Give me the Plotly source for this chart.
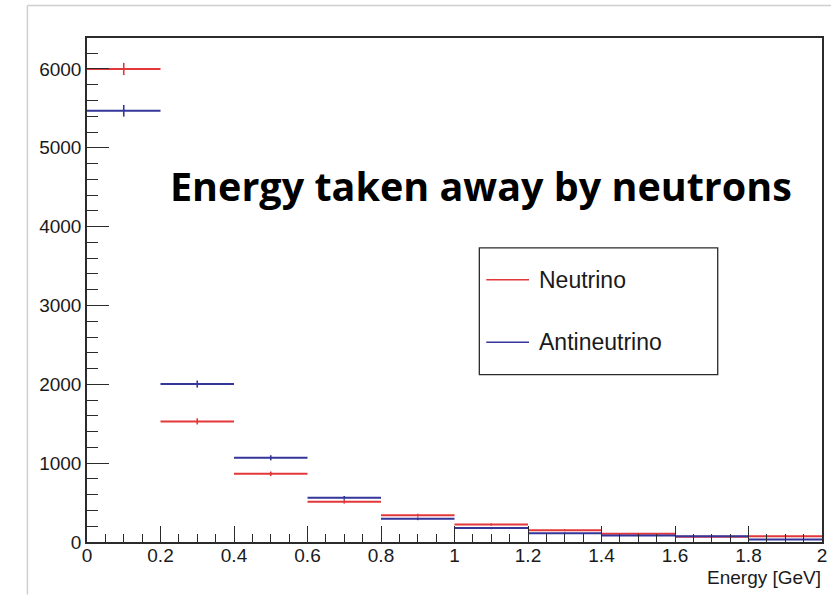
import numpy as np
import plotly.graph_objects as go

# Histogram bins (GeV) and bin contents
bin_edges = [0.0, 0.2, 0.4, 0.6, 0.8, 1.0, 1.2, 1.4, 1.6, 1.8, 2.0]
neutrino = [6000, 1530, 865, 510, 340, 222, 150, 105, 68, 73]
antineutrino = [5470, 2003, 1068, 560, 294, 176, 111, 83, 74, 33]

x_tick_vals = [0, 0.2, 0.4, 0.6, 0.8, 1.0, 1.2, 1.4, 1.6, 1.8, 2.0]
x_tick_text = ["0", "0.2", "0.4", "0.6", "0.8", "1", "1.2", "1.4", "1.6", "1.8", "2"]
y_tick_vals = [0, 1000, 2000, 3000, 4000, 5000, 6000]
y_tick_text = ["0", "1000", "2000", "3000", "4000", "5000", "6000"]

title_text = "Energy taken away by neutrons"
x_label = "Energy [GeV]"
legend_labels = ["Neutrino", "Antineutrino"]

RED = "#e3373a"
BLUE = "#34369a"
AXIS = "#2b2b2b"

W, H = 836, 595
L, R, T, B = 87, 9, 38, 52.5
PW, PH = W - L - R, H - T - B

centers = [(a + b) / 2 for a, b in zip(bin_edges[:-1], bin_edges[1:])]
half_w = [(b - a) / 2 for a, b in zip(bin_edges[:-1], bin_edges[1:])]


def px(xp):
    return (xp - L) / PW


def py(yp):
    return (H - B - yp) / PH


fig = go.Figure()
for vals, col, name in [(neutrino, RED, legend_labels[0]), (antineutrino, BLUE, legend_labels[1])]:
    fig.add_trace(go.Scatter(
        x=centers, y=vals, mode="markers", name=name,
        marker=dict(size=1, color=col, opacity=0),
        error_x=dict(type="data", array=half_w, visible=True, color=col, thickness=2, width=0),
        error_y=dict(type="data", array=list(np.sqrt(vals)), visible=True, color=col, thickness=1.6, width=0),
        showlegend=False, hoverinfo="x+y",
    ))

shapes = []
# outer page border (top and left edges)
shapes.append(dict(type="line", xref="paper", yref="paper", x0=px(27), x1=px(836), y0=py(5.5), y1=py(5.5),
                   line=dict(color="#cfcfcf", width=1.5)))
shapes.append(dict(type="line", xref="paper", yref="paper", x0=px(27), x1=px(27), y0=py(5.5), y1=py(595),
                   line=dict(color="#cfcfcf", width=1.5)))
# legend box
shapes.append(dict(type="rect", xref="paper", yref="paper", x0=px(482), x1=px(722), y0=py(375), y1=py(248),
                   line=dict(color=AXIS, width=1.3), fillcolor="white"))
annotations = []
for label, col, yc in [(legend_labels[0], RED, 280), (legend_labels[1], BLUE, 342.5)]:
    shapes.append(dict(type="line", xref="paper", yref="paper", x0=px(489), x1=px(532), y0=py(yc), y1=py(yc),
                       line=dict(color=col, width=1.6)))
    annotations.append(dict(text=label, xref="paper", yref="paper", x=px(540), y=py(yc),
                            xanchor="left", yanchor="middle", showarrow=False,
                            font=dict(family="Liberation Sans, Arial, sans-serif", size=23, color="#1a1a1a")))

annotations.append(dict(text="<b>" + title_text + "</b>", xref="paper", yref="paper", x=px(484), y=py(186),
                        xanchor="center", yanchor="middle", showarrow=False,
                        font=dict(family="Open Sans, sans-serif", size=39.5, color="black")))
annotations.append(dict(text=x_label, xref="paper", yref="paper", x=px(828), y=py(578),
                        xanchor="right", yanchor="middle", showarrow=False,
                        font=dict(family="Liberation Sans, Arial, sans-serif", size=19, color="#1a1a1a")))

axis_font = dict(family="Liberation Sans, Arial, sans-serif", size=19, color="#1a1a1a")
fig.update_layout(
    width=W, height=H,
    margin=dict(l=L, r=R, t=T, b=B, pad=0),
    paper_bgcolor="white", plot_bgcolor="white",
    showlegend=False,
    shapes=shapes, annotations=annotations,
    xaxis=dict(range=[0, 2], tickvals=x_tick_vals, ticktext=x_tick_text, ticks="inside", ticklen=16,
               tickwidth=1.3, tickcolor=AXIS, showgrid=False, zeroline=False, showline=True,
               linecolor=AXIS, linewidth=1.5, mirror=True, tickfont=axis_font, ticklabelstandoff=-5,
               minor=dict(dtick=0.05, ticks="inside", ticklen=8, tickwidth=1.2, tickcolor=AXIS, showgrid=False)),
    yaxis=dict(range=[0, 6393], tickvals=y_tick_vals, ticktext=y_tick_text, ticks="inside", ticklen=22,
               tickwidth=1.3, tickcolor=AXIS, showgrid=False, zeroline=False, showline=True,
               linecolor=AXIS, linewidth=1.5, mirror=True, tickfont=axis_font,
               minor=dict(dtick=200, ticks="inside", ticklen=11, tickwidth=1.2, tickcolor=AXIS, showgrid=False)),
)

fig.write_html("out.html")
